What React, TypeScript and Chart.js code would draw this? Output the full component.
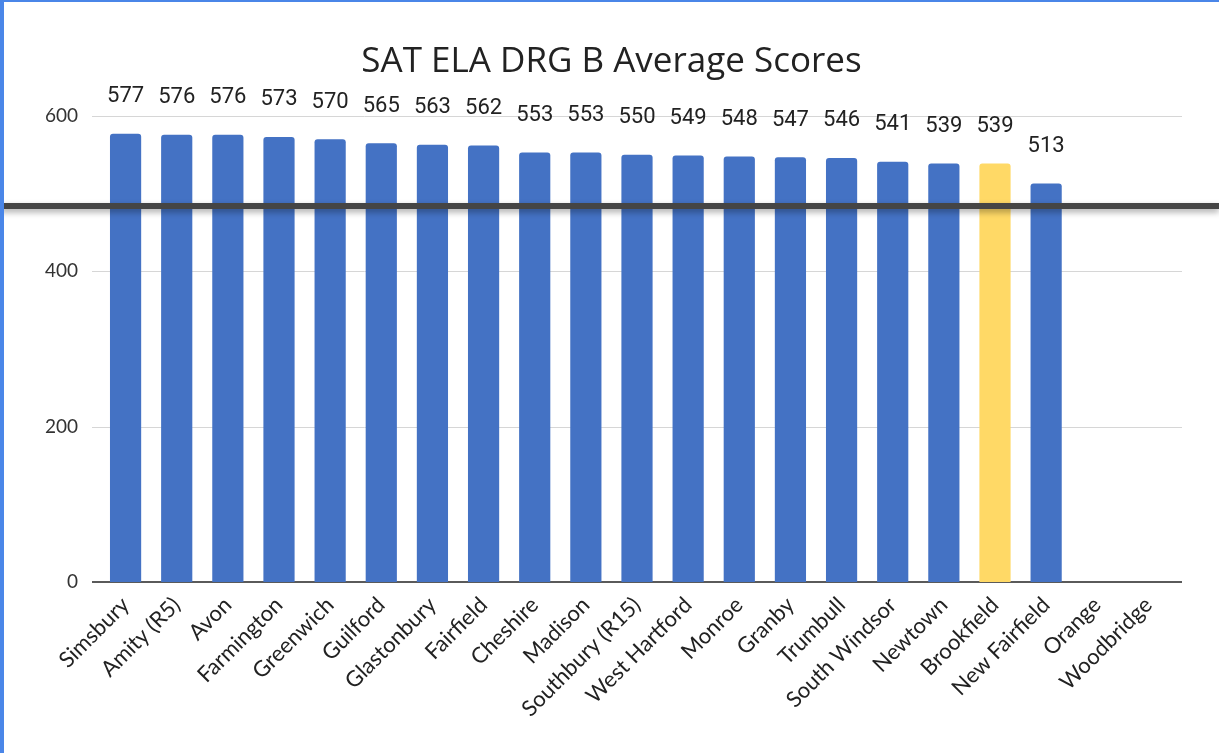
import React, { useEffect, useRef } from "react";
import { Chart, registerables } from "chart.js";

Chart.register(...registerables);

const titleText = "SAT ELA DRG B Average Scores";
const districts = [
  "Simsbury", "Amity (R5)", "Avon", "Farmington", "Greenwich", "Guilford",
  "Glastonbury", "Fairfield", "Cheshire", "Madison", "Southbury (R15)",
  "West Hartford", "Monroe", "Granby", "Trumbull", "South Windsor",
  "Newtown", "Brookfield", "New Fairfield", "Orange", "Woodbridge",
];
const scores: (number | null)[] = [
  577, 576, 576, 573, 570, 565, 563, 562, 553, 553, 550,
  549, 548, 547, 546, 541, 539, 539, 513, null, null,
];
const highlighted = ["Brookfield"];
const yTicks = [0, 200, 400, 600];

const BLUE = "#4472c4";
const YELLOW = "#ffd966";

const overlayPlugin = {
  id: "overlay",
  beforeDatasetsDraw(chart: any) {
    const { ctx, chartArea } = chart;
    const y = chart.scales.y;
    ctx.save();
    yTicks.forEach((v) => {
      const py = Math.round(y.getPixelForValue(v));
      ctx.beginPath();
      ctx.strokeStyle = v === 0 ? "#5a5a5a" : "#d6d6d6";
      ctx.lineWidth = v === 0 ? 2 : 1;
      ctx.moveTo(chartArea.left - 8, py + (v === 0 ? 0 : 0.5));
      ctx.lineTo(chartArea.right + 8, py + (v === 0 ? 0 : 0.5));
      ctx.stroke();
    });
    ctx.restore();
  },
  afterDatasetsDraw(chart: any) {
    const { ctx } = chart;
    const meta = chart.getDatasetMeta(0);
    ctx.save();
    ctx.font = "22px Roboto";
    ctx.fillStyle = "#222";
    ctx.textAlign = "center";
    ctx.textBaseline = "middle";
    meta.data.forEach((bar: any, i: number) => {
      const v = scores[i];
      if (v == null) return;
      ctx.fillText(String(v), bar.x, bar.y - 37);
    });
    ctx.restore();
  },
  afterDraw(chart: any) {
    const { ctx, width, height } = chart;
    ctx.save();
    // title
    ctx.font = "35px 'Open Sans'";
    ctx.fillStyle = "#222";
    ctx.textAlign = "center";
    ctx.textBaseline = "alphabetic";
    ctx.fillText(titleText, width / 2 + 2, 72);
    // thick rule
    ctx.shadowColor = "rgba(0,0,0,0.35)";
    ctx.shadowBlur = 6;
    ctx.shadowOffsetY = 3;
    ctx.fillStyle = "#454545";
    ctx.fillRect(0, 203, width, 6);
    ctx.shadowColor = "transparent";
    // blue frame
    ctx.fillStyle = "#4a86e8";
    ctx.fillRect(0, 0, 4, height);
    ctx.fillRect(0, 0, width, 2);
    ctx.restore();
  },
};

export default function App() {
  const ref = useRef<HTMLCanvasElement>(null);
  useEffect(() => {
    if (!ref.current) return;
    const chart = new Chart(ref.current, {
      type: "bar",
      data: {
        labels: districts,
        datasets: [
          {
            data: scores,
            backgroundColor: districts.map((d) => (highlighted.includes(d) ? YELLOW : BLUE)),
            borderRadius: 3,
            barPercentage: 0.61,
            categoryPercentage: 1,
          },
        ],
      },
      options: {
        responsive: false,
        animation: false,
        layout: { padding: { left: 0, right: 45, top: 116, bottom: 0 } },
        plugins: {
          legend: { display: false },
          tooltip: { enabled: false },
          title: { display: false },
        },
        scales: {
          x: {
            grid: { display: false },
            border: { display: false },
            ticks: {
              color: "#222",
              font: { family: "Lato", size: 22 },
              minRotation: 45,
              maxRotation: 45,
              autoSkip: false,
              padding: 2,
            },
            afterFit(scale: any) {
              scale.height = 171;
            },
          },
          y: {
            min: 0,
            max: 600,
            grid: { display: false, drawTicks: false },
            border: { display: false },
            ticks: {
              stepSize: 200,
              color: "#333",
              font: { family: "Lato", size: 19 },
              padding: 22,
            },
            afterFit(scale: any) {
              scale.width = 100;
            },
          },
        },
      },
      plugins: [overlayPlugin],
    });
    return () => chart.destroy();
  }, []);
  return (
    <div style={{ position: "fixed", left: 0, top: 0, width: 1219, height: 753, background: "#fff" }}>
      <canvas ref={ref} width={1219} height={753} />
    </div>
  );
}
